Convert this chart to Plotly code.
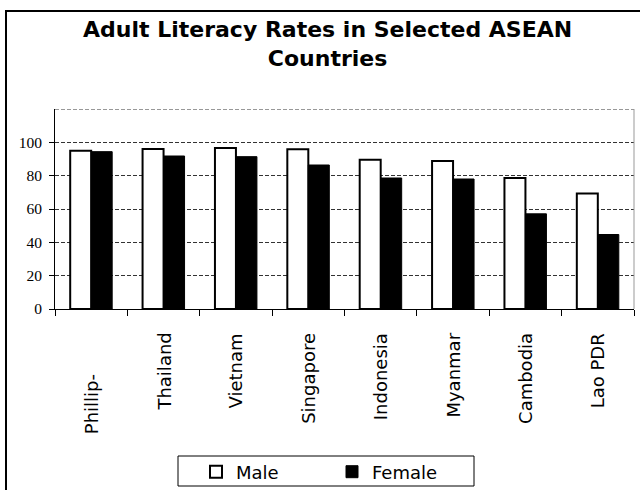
import plotly.graph_objects as go

# ---- data ----
countries = ["Phillip-", "Thailand", "Vietnam", "Singapore", "Indonesia", "Myanmar", "Cambodia", "Lao PDR"]
male = [95.0, 96.0, 96.6, 95.8, 89.6, 88.8, 78.6, 69.3]
female = [94.4, 91.8, 91.4, 86.4, 78.6, 78.0, 57.1, 44.7]
y_ticks = [0, 20, 40, 60, 80, 100]
y_top = 120
series_names = ["Male", "Female"]
title_lines = ["Adult Literacy Rates in Selected ASEAN", "Countries"]

# ---- geometry helpers (pixel -> paper) ----
W, H = 640, 490
L, R, T, B = 55, 6, 109, 181
PW = W - L - R
PH = H - T - B


def px(x):
    return (x - L) / PW


def py(y):
    return (H - B - y) / PH


SANS = "DejaVu Sans"
SERIF = "Liberation Serif, Times New Roman, serif"

fig = go.Figure()
fig.add_trace(go.Bar(
    x=countries, y=male, name=series_names[0],
    marker=dict(color="white", line=dict(color="black", width=2)),
))
fig.add_trace(go.Bar(
    x=countries, y=female, name=series_names[1],
    marker=dict(color="black", line=dict(color="black", width=1)),
))

annotations = []
# title (two lines)
annotations.append(dict(text="<b>" + "<br>".join(title_lines) + "</b>", x=px(327), y=py(44),
                        xref="paper", yref="paper", xanchor="center", yanchor="middle",
                        showarrow=False, font=dict(family=SANS, size=22, color="black")))

# category labels (rotated)
label_top_px = {"Phillip-": 372}
for c in countries:
    top = label_top_px.get(c, 331)
    annotations.append(dict(text=c, x=c, xref="x", y=py(top), yref="paper",
                            textangle=-90, xanchor="center", yanchor="top",
                            showarrow=False, font=dict(family=SANS, size=18, color="black")))

shapes = [
    # top dashed line of plot area (y = 120)
    dict(type="line", xref="paper", yref="y", x0=0, x1=1, y0=y_top, y1=y_top,
         line=dict(color="#333333", width=1, dash="4px,2px")),
    # right border of plot area
    dict(type="line", xref="paper", yref="paper", x0=1, x1=1, y0=0, y1=1,
         line=dict(color="#999999", width=1)),
    # legend box
    dict(type="rect", xref="paper", yref="paper", x0=px(178), x1=px(474), y0=py(486), y1=py(456),
         line=dict(color="black", width=1), fillcolor="rgba(0,0,0,0)"),
    # outer chart frame (top and left)
    dict(type="line", xref="paper", yref="paper", x0=px(5), x1=px(641), y0=py(11), y1=py(11),
         line=dict(color="black", width=2)),
    dict(type="line", xref="paper", yref="paper", x0=px(6), x1=px(6), y0=py(11), y1=py(491),
         line=dict(color="black", width=2)),
]

fig.update_layout(
    width=W, height=H,
    margin=dict(l=L, r=R, t=T, b=B, pad=0, autoexpand=False),
    paper_bgcolor="white", plot_bgcolor="white",
    barmode="group", bargap=0.42, bargroupgap=0,
    showlegend=True,
    legend=dict(orientation="h", x=px(196), xanchor="left", y=py(472), yanchor="middle",
                font=dict(family=SANS, size=18, color="black"),
                bgcolor="rgba(0,0,0,0)", borderwidth=0, entrywidth=91, entrywidthmode="pixels",
                itemclick=False, itemdoubleclick=False),
    annotations=annotations,
    shapes=shapes,
    xaxis=dict(showline=True, linecolor="black", linewidth=1, ticks="outside", tickson="boundaries",
               ticklen=6, tickcolor="black", showticklabels=False, showgrid=False, zeroline=False,
               fixedrange=True),
    yaxis=dict(range=[0, y_top], tickvals=y_ticks, ticktext=[str(v) for v in y_ticks],
               showline=True, linecolor="black", linewidth=1, ticks="outside", ticklen=5,
               tickcolor="black", showgrid=True, gridcolor="#333333", gridwidth=1, griddash="4px,2px",
               zeroline=False, tickfont=dict(family=SERIF, size=15.5, color="black"),
               ticklabelstandoff=4, fixedrange=True),
)

fig.write_html("out.html", config={"displayModeBar": False})
